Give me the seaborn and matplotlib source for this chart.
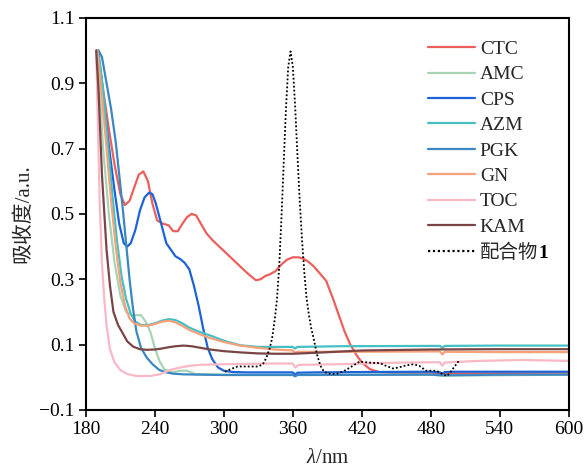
import numpy as np
import pandas as pd
import seaborn as sns
import matplotlib
matplotlib.use("Agg")
import matplotlib.pyplot as plt

sns.set_theme(style="white")
plt.rcParams['font.family'] = ['Liberation Serif', 'Noto Sans CJK SC']
plt.rcParams['mathtext.fontset'] = 'custom'
plt.rcParams['mathtext.rm'] = 'Liberation Serif'
plt.rcParams['mathtext.it'] = 'Liberation Serif:italic'
plt.rcParams['mathtext.bf'] = 'Liberation Serif:bold'
plt.rcParams['axes.unicode_minus'] = True

# ---- data ----
ctc_x = [190,195,200,205,210,214,218,222,226,230,234,238,242,247,252,256,260,264,268,272,276,280,285,290,296,302,308,314,320,325,328,332,336,340,345,350,355,360,365,369,373,378,383,389,395,400,405,410,415,420,427,435,450,480,490,500,540,600]
ctc_y = [1.0,0.88,0.76,0.65,0.56,0.527,0.54,0.58,0.62,0.63,0.60,0.53,0.48,0.47,0.465,0.447,0.447,0.47,0.49,0.50,0.495,0.47,0.44,0.42,0.40,0.38,0.36,0.34,0.32,0.305,0.297,0.30,0.31,0.315,0.325,0.345,0.36,0.367,0.367,0.363,0.355,0.34,0.32,0.295,0.24,0.19,0.14,0.10,0.07,0.045,0.025,0.016,0.013,0.012,0.012,0.012,0.012,0.012]

amc_x = [190,195,200,205,210,215,220,225,228,232,236,240,244,248,255,262,268,275,300,360,362,364,480,490,600]
amc_y = [1.0,0.70,0.50,0.35,0.25,0.20,0.19,0.19,0.19,0.17,0.14,0.09,0.05,0.025,0.015,0.02,0.02,0.01,0.008,0.008,0.004,0.008,0.008,0.005,0.008]

cps_x = [190,193,197,201,205,209,213,216,219,223,227,231,235,238,241,244,247,250,254,258,262,266,270,274,278,282,286,290,295,300,308,320,340,360,362,364,380,420,480,488,490,492,500,540,600]
cps_y = [1.0,0.93,0.80,0.68,0.57,0.47,0.41,0.40,0.41,0.45,0.51,0.55,0.565,0.56,0.53,0.49,0.45,0.41,0.39,0.37,0.362,0.35,0.33,0.28,0.22,0.15,0.09,0.055,0.03,0.02,0.016,0.015,0.015,0.015,0.008,0.014,0.015,0.016,0.017,0.015,0.01,0.016,0.017,0.017,0.017]

azm_x = [191,195,199,203,207,211,215,219,223,228,234,240,246,252,258,264,270,278,288,300,314,330,360,362,364,400,480,488,490,492,540,600]
azm_y = [1.0,0.88,0.72,0.56,0.42,0.31,0.24,0.195,0.17,0.16,0.16,0.165,0.173,0.178,0.175,0.165,0.152,0.14,0.128,0.112,0.098,0.093,0.093,0.088,0.093,0.095,0.096,0.096,0.09,0.096,0.097,0.097]

pgk_x = [191,194,198,202,206,209,212,215,218,221,224,228,233,238,244,250,256,265,280,300,360,362,364,480,490,540,600]
pgk_y = [1.0,0.98,0.90,0.82,0.72,0.62,0.52,0.41,0.30,0.21,0.14,0.09,0.06,0.04,0.022,0.015,0.011,0.009,0.008,0.007,0.007,0.003,0.007,0.008,0.006,0.008,0.008]

gn_x = [190,194,198,202,206,210,214,218,222,228,234,240,246,252,258,264,270,278,288,300,314,330,345,360,362,364,400,480,488,490,492,540,600]
gn_y = [1.0,0.86,0.70,0.54,0.40,0.29,0.22,0.18,0.165,0.158,0.158,0.163,0.17,0.173,0.168,0.157,0.145,0.133,0.12,0.108,0.097,0.09,0.085,0.082,0.075,0.078,0.078,0.079,0.079,0.07,0.078,0.077,0.077]

toc_x = [189,190,192,194,196,198,201,205,210,216,224,236,245,253,262,270,279,300,340,360,362,365,400,440,480,488,490,492,520,560,600]
toc_y = [1.0,0.85,0.54,0.35,0.24,0.16,0.085,0.045,0.022,0.01,0.004,0.004,0.01,0.022,0.03,0.035,0.038,0.04,0.042,0.042,0.03,0.038,0.04,0.044,0.046,0.046,0.035,0.045,0.05,0.053,0.05]

kam_x = [189,191,194,198,201,204,208,212,216,221,227,233,240,246,252,258,265,272,280,288,300,315,330,345,360,380,420,480,540,600]
kam_y = [1.0,0.88,0.62,0.39,0.28,0.2,0.16,0.135,0.11,0.094,0.086,0.084,0.085,0.088,0.092,0.095,0.097,0.095,0.09,0.085,0.08,0.076,0.073,0.072,0.072,0.075,0.082,0.085,0.086,0.086]

cpx_x = [301,306,312,318,324,330,334,337,340,342,344,346,348,350,352,354,356,358,360,362,364,366,368,370,372,374,376,378,381,384,387,390,395,400,406,412,418,426,436,441,447,452,458,465,470,476,481,485,490,494,497,500,505]
cpx_y = [0.017,0.025,0.033,0.033,0.033,0.033,0.04,0.06,0.09,0.12,0.17,0.23,0.33,0.48,0.65,0.82,0.95,0.997,0.95,0.83,0.68,0.54,0.42,0.32,0.24,0.19,0.15,0.12,0.07,0.035,0.018,0.012,0.01,0.012,0.022,0.035,0.048,0.045,0.043,0.035,0.027,0.03,0.036,0.04,0.035,0.02,0.02,0.02,0.01,0.004,0.015,0.03,0.053]

names = ['CTC', 'AMC', 'CPS', 'AZM', 'PGK', 'GN', 'TOC', 'KAM']
complex_name = '配合物'
complex_num = '1'
xs = [ctc_x, amc_x, cps_x, azm_x, pgk_x, gn_x, toc_x, kam_x]
ys = [ctc_y, amc_y, cps_y, azm_y, pgk_y, gn_y, toc_y, kam_y]
colors = ['#ec5f5c', '#a8d4b6', '#1d63d8', '#45c0c2', '#3b87c2', '#f5a27a', '#f8b8c5', '#7a4546']

frames = [pd.DataFrame({'x': x, 'y': y, 'name': n}) for n, x, y in zip(names, xs, ys)]
df = pd.concat(frames, ignore_index=True)

fig = plt.figure(figsize=(5.84, 4.68), dpi=100)
ax = fig.add_axes([0.147, 0.124, 0.827, 0.838])

sns.lineplot(data=df, x='x', y='y', hue='name', hue_order=names,
             palette=dict(zip(names, colors)), sort=False, estimator=None,
             linewidth=1.6, ax=ax)
sns.lineplot(x=cpx_x, y=cpx_y, color='black', linestyle=(0, (1, 1.2)),
             linewidth=1.3, sort=False, estimator=None, ax=ax,
             label=complex_name)

ax.set_xlim(180, 600)
ax.set_ylim(-0.1, 1.1)
ax.set_xticks(np.arange(180, 601, 60))
ax.set_yticks([-0.1, 0.1, 0.3, 0.5, 0.7, 0.9, 1.1])
ax.set_yticklabels(['\u22120.1', '0.1', '0.3', '0.5', '0.7', '0.9', '1.1'])
ax.tick_params(axis='both', which='major', direction='out', length=5, width=1.2,
               labelsize=14, colors='black', left=True, bottom=True, pad=3)
for s in ax.spines.values():
    s.set_color('black')
    s.set_linewidth(1.5)
ax.set_xlabel('$\\lambda$/nm', fontsize=15, labelpad=8)
ax.set_ylabel('吸收度/a.u.', fontsize=15, labelpad=4)

leg = ax.legend(loc='upper right', frameon=False, fontsize=14, handlelength=2.4,
                handletextpad=0.25, labelspacing=0.4, borderaxespad=0.0,
                bbox_to_anchor=(0.953, 0.962))
for line in leg.get_lines():
    line.set_linewidth(1.6)

last = leg.get_texts()[-1]
ax.annotate(complex_num, xy=(1, 0), xycoords=last, ha='left', va='bottom',
            fontsize=14, fontweight='bold', color='black', zorder=10)

fig.savefig('out.png', dpi=100)
